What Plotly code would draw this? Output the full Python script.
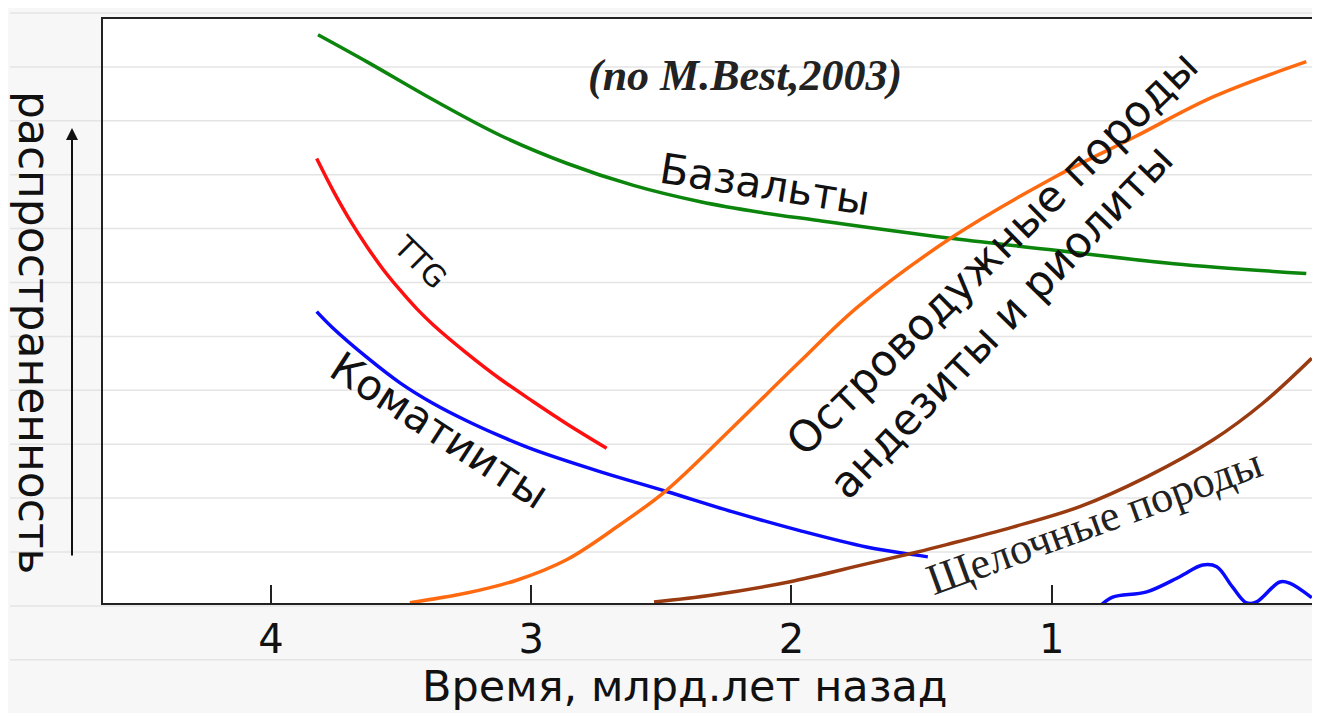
import plotly.graph_objects as go

# ---- data ----
basalt_x = [3.819, 3.632, 3.378, 3.120, 2.864, 2.607, 2.350, 2.122, 1.896, 1.380, 0.986, 0.531, 0.022]
basalt_y = [97.3, 92.7, 86.2, 80.1, 75.3, 71.5, 68.7, 66.9, 65.5, 62.4, 60.4, 58.1, 56.4]

ttg_x = [3.824, 3.762, 3.697, 3.632, 3.570, 3.504, 3.440, 3.378, 3.248, 3.120, 2.993, 2.864, 2.710]
ttg_y = [76.1, 70.7, 65.6, 61.1, 57.2, 53.6, 50.4, 47.7, 42.8, 38.4, 34.5, 30.7, 26.5]

komat_x = [3.824, 3.762, 3.632, 3.504, 3.378, 3.248, 3.120, 2.993, 2.736, 2.480, 2.225, 1.968, 1.712, 1.520, 1.476]
komat_y = [49.9, 47.1, 42.1, 37.7, 34.2, 31.2, 28.6, 26.3, 22.5, 19.1, 15.6, 12.4, 9.6, 8.2, 7.9]

arc_x = [3.466, 3.248, 3.056, 2.864, 2.659, 2.480, 2.225, 1.968, 1.745, 1.380, 0.986, 0.682, 0.378, 0.022]
arc_y = [0.05, 1.7, 3.9, 7.4, 13.4, 19.3, 30.1, 41.3, 50.7, 62.7, 73.0, 79.8, 86.7, 92.7]

alk_x = [2.528, 2.303, 2.010, 1.712, 1.520, 1.404, 1.150, 0.892, 0.635, 0.381, 0.189, 0.001]
alk_y = [0.17, 1.37, 3.6, 6.7, 8.7, 10.0, 13.0, 16.5, 21.6, 27.9, 34.2, 41.9]

wig_x = [0.809, 0.766, 0.635, 0.508, 0.420, 0.366, 0.305, 0.251, 0.213, 0.124, 0.086, 0.001]
wig_y = [-0.3, 1.0, 1.9, 4.5, 6.5, 6.2, 2.7, 0.0, 0.2, 3.6, 3.4, 0.9]

tick_vals = [4, 3, 2, 1]
tick_text = ["4", "3", "2", "1"]

x_title = "Время, млрд.лет назад"
y_title = "распространенность"

# ---- figure (page body has an 8px margin) ----
OFF = 8
W, H = 1304, 705
L, R, T, B = 95, 0, 11, 110
pw, ph = W - L - R, H - T - B

fig = go.Figure()

series = [
    (basalt_x, basalt_y, "#0c850c", "Базальты"),
    (ttg_x, ttg_y, "#ff1010", "TTG"),
    (komat_x, komat_y, "#0a0aff", "Коматииты"),
    (arc_x, arc_y, "#ff6a10", "Островодужные породы"),
    (alk_x, alk_y, "#9a3a10", "Щелочные породы"),
    (wig_x, wig_y, "#0a0aff", ""),
]
for xs, ys, col, name in series:
    fig.add_trace(go.Scatter(x=xs, y=ys, mode="lines", name=name,
                             line=dict(color=col, width=3.5, shape="spline", smoothing=1.0),
                             showlegend=False, hoverinfo="skip", cliponaxis=False))

def px2paper_x(px):
    return (px - OFF - L) / pw

def py2paper_y(py):
    return (H - B - (py - OFF)) / ph

# faint slide stripes
shapes = []
for i in range(14):
    py = 13 + 53.9 * i
    shapes.append(dict(type="line", xref="paper", yref="paper",
                       x0=px2paper_x(10), x1=px2paper_x(1320), y0=py2paper_y(py), y1=py2paper_y(py),
                       line=dict(color="#e4e4e4", width=1.5), layer="below"))
fig.update_layout(shapes=shapes)

sans = "DejaVu Sans"
serif = "Liberation Serif"
ann = []
ann.append(dict(x=2.179, y=90.4, xref="x", yref="y", text="<b><i>(по M.Best,2003)</i></b>",
                showarrow=False, font=dict(family=serif, size=44, color="#222")))
ann.append(dict(x=2.103, y=71.6, xref="x", yref="y", text="Базальты", textangle=9,
                showarrow=False, font=dict(family=sans, size=42, color="#111")))
ann.append(dict(x=3.428, y=58.4, xref="x", yref="y", text="TTG", textangle=45,
                showarrow=False, font=dict(family=sans, size=30, color="#111")))
ann.append(dict(x=3.351, y=29.6, xref="x", yref="y", text="Коматииты", textangle=33,
                showarrow=False, font=dict(family=sans, size=42, color="#111")))
ann.append(dict(x=1.230, y=60.0, xref="x", yref="y", text="Островодужные породы", textangle=-44.5,
                showarrow=False, font=dict(family=sans, size=43, color="#111")))
ann.append(dict(x=1.195, y=48.3, xref="x", yref="y", text="андезиты и риолиты", textangle=-46,
                showarrow=False, font=dict(family=sans, size=43, color="#111")))
ann.append(dict(x=0.835, y=13.9, xref="x", yref="y", text="Щелочные породы", textangle=-20,
                showarrow=False, font=dict(family=serif, size=44, color="#222")))
# x title (sits slightly left of the plot centre)
ann.append(dict(x=px2paper_x(685), y=py2paper_y(686), xref="paper", yref="paper", text=x_title,
                xanchor="center", yanchor="middle", showarrow=False,
                font=dict(family=sans, size=43, color="#111")))
# vertical y title, reading top to bottom
ann.append(dict(x=px2paper_x(35), y=py2paper_y(332), xref="paper", yref="paper", text=y_title,
                xanchor="center", yanchor="middle",
                textangle=90, showarrow=False, font=dict(family=sans, size=44, color="#111")))
# arrow
ann.append(dict(x=px2paper_x(72), y=py2paper_y(128), xref="paper", yref="paper", text="",
                showarrow=True, ax=0, ay=429, axref="pixel", ayref="pixel",
                arrowhead=2, arrowsize=1.2, arrowwidth=2, arrowcolor="#111"))
fig.update_layout(annotations=ann)

fig.update_xaxes(range=[4.645, 0], tickvals=tick_vals, ticktext=tick_text,
                 ticks="inside", ticklen=18, tickwidth=2, tickcolor="#222",
                 showline=True, linecolor="#222", linewidth=2, mirror=True,
                 showgrid=False, zeroline=False,
                 tickfont=dict(family=sans, size=40, color="#111"))
fig.update_yaxes(range=[0, 100], showticklabels=False, ticks="",
                 showline=True, linecolor="#222", linewidth=2, mirror=True,
                 showgrid=False, zeroline=False)

fig.update_layout(width=W, height=H, margin=dict(l=L, r=R, t=T, b=B, autoexpand=False),
                  paper_bgcolor="#f7f7f7", plot_bgcolor="#ffffff")

fig.write_html("out.html")
